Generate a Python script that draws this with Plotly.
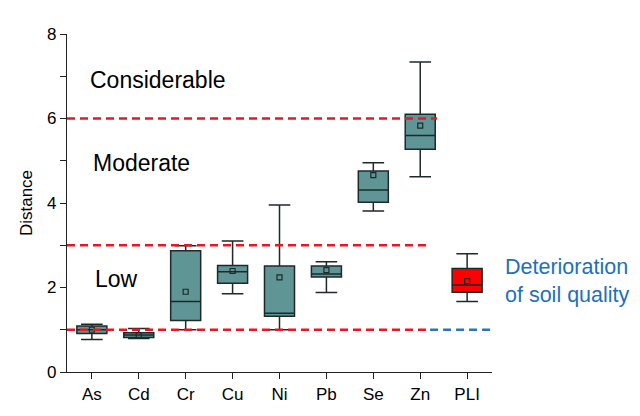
import plotly.graph_objects as go

categories = ["As", "Cd", "Cr", "Cu", "Ni", "Pb", "Se", "Zn"]
q1 = [0.91, 0.815, 1.22, 2.10, 1.32, 2.25, 4.02, 5.27]
median = [1.00, 0.875, 1.67, 2.37, 1.39, 2.32, 4.31, 5.60]
q3 = [1.09, 0.93, 2.87, 2.52, 2.51, 2.51, 4.76, 6.10]
lower = [0.77, 0.79, 1.00, 1.855, 1.00, 1.88, 3.81, 4.62]
upper = [1.13, 1.03, 2.99, 3.10, 3.95, 2.61, 4.95, 7.34]
mean = [1.00, 0.87, 1.90, 2.39, 2.24, 2.41, 4.66, 5.83]

pli_cat = ["PLI"]
pli_q1 = [1.89]
pli_median = [2.06]
pli_q3 = [2.45]
pli_lower = [1.67]
pli_upper = [2.80]
pli_mean = [2.15]

thresholds = [6, 3, 1]
threshold_ends = [7.36, 7.21, 7.21]
axis_end = 8.53

labels = ["Considerable", "Moderate", "Low"]
label_y = [6.92, 4.95, 2.2]
label_x = [-0.09, -0.01, 0.03]

teal = "#5F9595"
edge = "#1E2A2A"
FONT = "Liberation Sans, Arial"

fig = go.Figure()
fig.add_trace(go.Box(
    x=categories, q1=q1, median=median, q3=q3, lowerfence=lower, upperfence=upper,
    fillcolor=teal, line=dict(color=edge, width=1.5), width=0.64, whiskerwidth=0.72,
    boxpoints=False, showlegend=False))
fig.add_trace(go.Box(
    x=pli_cat, q1=pli_q1, median=pli_median, q3=pli_q3, lowerfence=pli_lower,
    upperfence=pli_upper, fillcolor="#FF0000", line=dict(color=edge, width=1.5),
    width=0.64, whiskerwidth=0.72, boxpoints=False, showlegend=False))
fig.add_trace(go.Scatter(
    x=categories + pli_cat, y=mean + pli_mean, mode="markers",
    marker=dict(symbol="square-open", size=5, color=edge, line=dict(width=1.2)),
    showlegend=False, hoverinfo="skip"))

for y, xe in zip(thresholds, threshold_ends):
    fig.add_shape(type="line", xref="x", yref="y", x0=-0.53, x1=xe, y0=y, y1=y,
                  line=dict(color="#E8191E", width=2.5, dash="8px,5px"), layer="above")
fig.add_shape(type="line", xref="x", yref="y", x0=threshold_ends[2], x1=axis_end,
              y0=thresholds[2], y1=thresholds[2],
              line=dict(color="#2E75B6", width=2.5, dash="8px,5px"), layer="above")

for lx, ly, t in zip(label_x, label_y, labels):
    fig.add_annotation(x=lx, y=ly, xref="x", yref="y", text=t, showarrow=False,
                       xanchor="left", font=dict(size=23, color="black", family=FONT))

fig.add_annotation(x=1.0, y=2.15, xref="paper", yref="y", xanchor="left",
                   xshift=11, yanchor="middle",
                   text="Deterioration<br>of soil quality", showarrow=False, align="left",
                   font=dict(size=21.5, color="#1F6FC0", family=FONT))

fig.update_layout(
    width=640, height=416, plot_bgcolor="white", paper_bgcolor="white",
    margin=dict(l=67, r=148, t=34, b=41), boxmode="overlay",
    font=dict(family=FONT, color="black"),
    xaxis=dict(type="category", range=[-0.53, axis_end], showline=True,
               linecolor="#222", linewidth=1.2, ticks="outside", ticklen=6,
               tickcolor="#222", tickfont=dict(size=17), showgrid=False, zeroline=False),
    yaxis=dict(range=[0, 8], tickvals=[0, 2, 4, 6, 8], showline=True, linecolor="#222",
               linewidth=1.2, ticks="outside", ticklen=6, tickcolor="#222",
               tickfont=dict(size=17), showgrid=False, zeroline=False,
               title=dict(text="Distance", font=dict(size=17), standoff=10),
               minor=dict(tickvals=[1, 3, 5, 7], ticks="outside", ticklen=6,
                          tickcolor="#222")),
)

fig.write_html("out.html", config={"displayModeBar": False},
               post_script="document.body.style.margin='0';")
